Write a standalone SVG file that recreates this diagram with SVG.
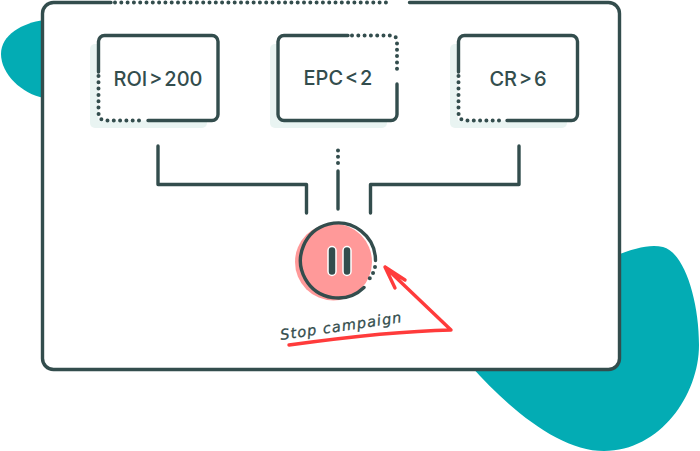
<svg xmlns="http://www.w3.org/2000/svg" width="700" height="451" viewBox="0 0 700 451">
<style>
.line{fill:none;stroke:#334d4d;stroke-width:3.400;stroke-linecap:round;stroke-linejoin:round}
.dot{fill:none;stroke:#334d4d;stroke-width:4;stroke-linecap:round;stroke-dasharray:0 6.3}
.shade{fill:#e9f4f2}
.blob{fill:#03acb4}
.label{font-family:"Inter","Liberation Sans",sans-serif;font-size:20px;font-weight:500;word-spacing:-3.500px;fill:#334d4d;text-anchor:middle}
.red{fill:none;stroke:#ff3b3b;stroke-width:3.400;stroke-linecap:round;stroke-linejoin:round}
</style>
<g id="backdrop">
<path class="blob" d="M44 20C22 23 1 35 1 54C1 74 22 94 44 98Z"/>
<path class="blob" d="M615 256C635 248 650 244 663 247C684 252 699 300 699 345C699 395 660 451 604 451C560 451 510 410 470 365L600 300Z"/>
</g>
<g id="frame">
<rect x="42.500" y="2.500" width="577" height="367" rx="11" fill="#fff"/>
<path class="line" d="M111 2.500H53.500A11 11 0 0 0 42.500 13.500V358.500A11 11 0 0 0 53.500 369.500H608.500A11 11 0 0 0 619.500 358.500V13.500A11 11 0 0 0 608.500 2.500H409.500"/>
<path class="dot" d="M115 2.500H392"/>
</g>
<g id="rule-roi">
<rect class="shade" x="90" y="44" width="117" height="84" rx="5"/>
<rect x="98.500" y="35.500" width="119" height="85" fill="#fff"/>
<path class="line" d="M98.500 72V41.500A6 6 0 0 1 104.500 35.500H212A6 6 0 0 1 218 41.500V114.500A6 6 0 0 1 212 120.500H148"/>
<path class="dot" d="M98.500 76V112Q98.500 120.500 106 120.500H145"/>
<text class="label" x="158" y="86">ROI &gt; 200</text>
</g>
<g id="rule-epc">
<rect class="shade" x="270" y="44" width="117" height="84" rx="5"/>
<rect x="278" y="35.500" width="119" height="85" fill="#fff"/>
<path class="line" d="M397 84V114.500A6 6 0 0 1 391 120.500H284A6 6 0 0 1 278 114.500V41.500A6 6 0 0 1 284 35.500H348"/>
<path class="dot" d="M352 35.500H391Q397 35.500 397 42V73"/>
<text class="label" x="338" y="85">EPC &lt; 2</text>
</g>
<g id="rule-cr">
<rect class="shade" x="450" y="44" width="117" height="84" rx="5"/>
<rect x="458" y="35.500" width="119" height="85" fill="#fff"/>
<path class="line" d="M458.500 72V41.500A6 6 0 0 1 464.500 35.500H571.500A6 6 0 0 1 577.500 41.500V114.500A6 6 0 0 1 571.500 120.500H507"/>
<path class="dot" d="M458.500 76V112Q458.500 120.500 466 120.500H504"/>
<text class="label" x="518" y="86">CR &gt; 6</text>
</g>
<g id="connectors">
<path class="line" d="M158 146V184.500H306.500V213"/>
<path class="line" d="M370.500 213V184.500H519V146"/>
<path class="line" d="M338 171V209"/>
<path class="dot" d="M338 150.500V166" stroke-dasharray="0 7"/>
</g>
<g id="pause">
<circle cx="333.500" cy="262" r="38.500" fill="#ff9999"/>
<path class="line" d="M364 287.500A37.500 37.500 0 1 1 375.500 260.500"/>
<path class="dot" d="M375 267L372.700 274L368 281" stroke-dasharray="0 7.3"/>
<rect x="328" y="246.500" width="8" height="29" rx="4" fill="#334d4d" stroke="#fff" stroke-width="1.500"/>
<rect x="343" y="246.500" width="8" height="29" rx="4" fill="#334d4d" stroke="#fff" stroke-width="1.500"/>
</g>
<g id="note">
<text x="281" y="340" transform="rotate(-8.400 281 340)" font-family="'DejaVu Sans',sans-serif" font-style="oblique" font-size="14.500" letter-spacing="1.100" fill="#334d4d" stroke="#334d4d" stroke-width="0.300">Stop campaign</text>
<path class="red" d="M289 345C340 338 400 331 451 330L385 267L405 280M385 267L395 288"/>
</g>
</svg>
